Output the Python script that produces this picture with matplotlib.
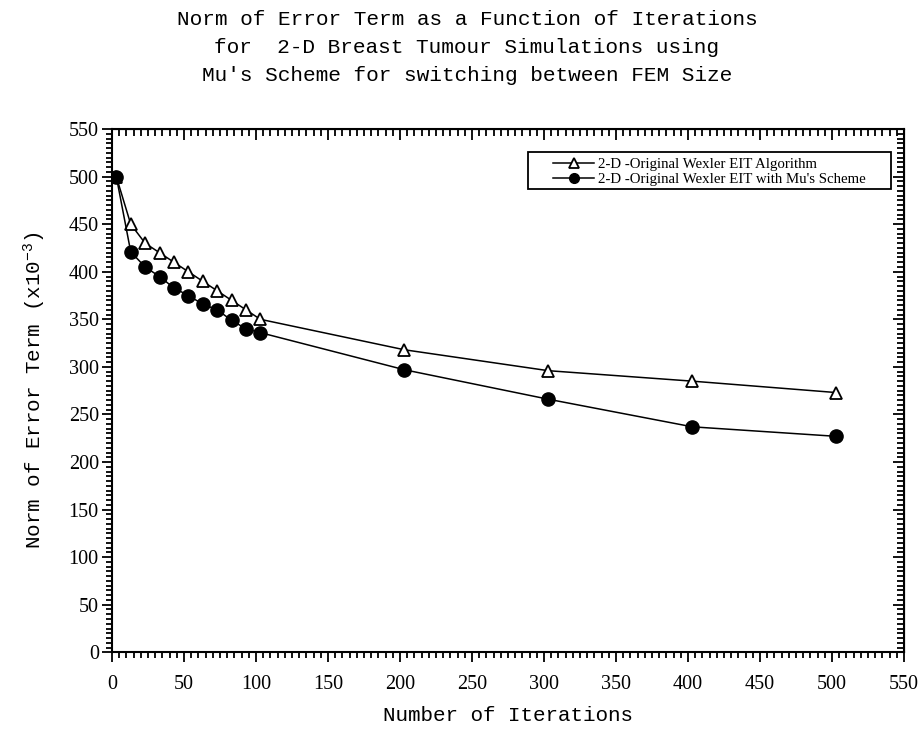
import matplotlib
matplotlib.use("Agg")
import matplotlib.pyplot as plt
from matplotlib.ticker import MultipleLocator
from matplotlib.patches import Rectangle

# Data
iterations = [3, 13, 23, 33, 43, 53, 63, 73, 83, 93, 103, 203, 303, 403, 503]
original = [500, 450, 430, 420, 410, 400, 390, 380, 370, 360, 350, 318, 296, 285, 273]
mu_scheme = [500, 421, 405, 395, 383, 375, 366, 360, 349, 340, 336, 297, 266, 237, 227]
labels = ["2-D -Original Wexler EIT Algorithm",
          "2-D -Original Wexler EIT with Mu's Scheme"]
title_lines = ["Norm of Error Term as a Function of Iterations",
               "for  2-D Breast Tumour Simulations using",
               "Mu's Scheme for switching between FEM Size"]

plt.rcParams['mathtext.default'] = 'regular'
mono = 'Liberation Mono'
serif = 'Liberation Serif'

fig = plt.figure(figsize=(9.21, 7.29), dpi=100)
ax = fig.add_axes([0.1216, 0.1052, 0.8600, 0.7178])

ax.plot(iterations, original, color='black', lw=1.1, marker='^', ms=8,
        mfc='white', mec='black', mew=1.3, label=labels[0], zorder=3)
ax.plot(iterations, mu_scheme, color='black', lw=1.1, marker='o', ms=9.5,
        mfc='black', mec='black', label=labels[1], zorder=3)

ax.set_xlim(0, 550)
ax.set_ylim(0, 550)
ax.xaxis.set_major_locator(MultipleLocator(50))
ax.xaxis.set_minor_locator(MultipleLocator(5))
ax.yaxis.set_major_locator(MultipleLocator(50))
ax.yaxis.set_minor_locator(MultipleLocator(5))
ax.tick_params(which='both', direction='out', width=1.3, labelsize=14.5)
ax.tick_params(which='major', length=7)
ax.tick_params(which='minor', length=4.5)
ax.tick_params(axis='x', which='major', pad=9)
ax.tick_params(axis='y', which='major', pad=2.5)
for lab in ax.get_xticklabels() + ax.get_yticklabels():
    lab.set_fontfamily(serif)
for sp in ax.spines.values():
    sp.set_linewidth(1.5)

ident = (lambda x: x, lambda x: x)
secx = ax.secondary_xaxis('top', functions=ident)
secx.xaxis.set_major_locator(MultipleLocator(50))
secx.xaxis.set_minor_locator(MultipleLocator(5))
secx.tick_params(which='both', direction='in', width=1.3, labeltop=False)
secx.tick_params(which='major', length=8)
secx.tick_params(which='minor', length=5)
secy = ax.secondary_yaxis('right', functions=ident)
secy.yaxis.set_major_locator(MultipleLocator(50))
secy.yaxis.set_minor_locator(MultipleLocator(5))
secy.tick_params(which='both', direction='in', width=1.3, labelright=False)
secy.tick_params(which='major', length=8)
secy.tick_params(which='minor', length=5)

ax.set_xlabel("Number of Iterations", fontfamily=mono, fontsize=15, labelpad=9)
ax.set_ylabel("Norm of Error Term (x10$^{-3}$)", fontfamily=mono, fontsize=15, labelpad=15)

# legend box (drawn as a frame) and entries
ax.add_patch(Rectangle((0.525, 0.8848), 0.4586, 0.0718, transform=ax.transAxes,
                       facecolor='white', edgecolor='black', lw=1.3, zorder=4))
leg = ax.legend(loc='center left', bbox_to_anchor=(0.557, 0.9175),
                prop={'family': serif, 'size': 10.7}, frameon=False,
                handlelength=2.75, borderpad=0, labelspacing=0.1,
                handletextpad=0.3, borderaxespad=0)
leg.set_zorder(5)
for h in leg.legend_handles:
    h.set_markersize(7)

ys = [0.973, 0.935, 0.897]
for line, y in zip(title_lines, ys):
    fig.text(0.507, y, line, ha='center', va='center', fontfamily=mono, fontsize=15.2)

fig.savefig("out.png", dpi=100, facecolor='white')
